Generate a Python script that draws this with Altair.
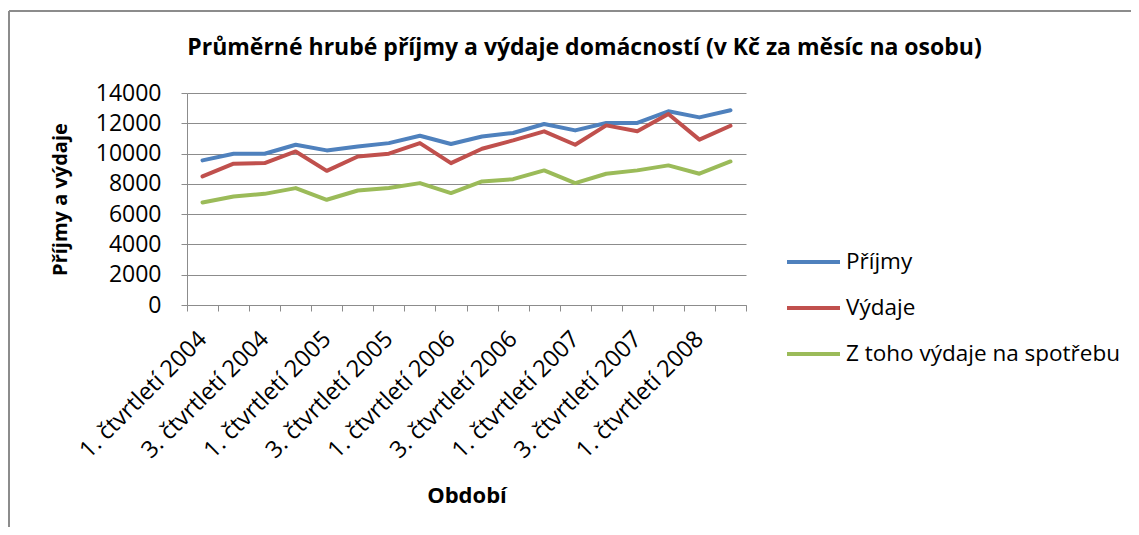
import altair as alt
import pandas as pd

quarters = [
    "1. čtvrtletí 2004", "2. čtvrtletí 2004", "3. čtvrtletí 2004", "4. čtvrtletí 2004",
    "1. čtvrtletí 2005", "2. čtvrtletí 2005", "3. čtvrtletí 2005", "4. čtvrtletí 2005",
    "1. čtvrtletí 2006", "2. čtvrtletí 2006", "3. čtvrtletí 2006", "4. čtvrtletí 2006",
    "1. čtvrtletí 2007", "2. čtvrtletí 2007", "3. čtvrtletí 2007", "4. čtvrtletí 2007",
    "1. čtvrtletí 2008", "2. čtvrtletí 2008",
]
prijmy = [9550, 9990, 9990, 10580, 10210, 10470, 10690, 11180, 10630,
          11130, 11360, 11950, 11530, 12020, 12020, 12790, 12390, 12860]
vydaje = [8490, 9330, 9370, 10140, 8860, 9810, 9990, 10690, 9370,
          10320, 10870, 11470, 10580, 11860, 11470, 12610, 10920, 11840]
spotreba = [6770, 7170, 7340, 7720, 6950, 7560, 7720, 8050, 7390,
            8160, 8310, 8890, 8050, 8670, 8890, 9220, 8670, 9480]
series_names = ["Příjmy", "Výdaje", "Z toho výdaje na spotřebu"]
series_colors = ["#4F81BD", "#C0504D", "#9BBB59"]
y_ticks = [0, 2000, 4000, 6000, 8000, 10000, 12000, 14000]

rows = []
for name, vals in zip(series_names, [prijmy, vydaje, spotreba]):
    for q, v in zip(quarters, vals):
        rows.append({"Období": q, "Hodnota": v, "Řada": name})
df = pd.DataFrame(rows)

FONT = "Open Sans"
GRAY = "#8c8c8c"

lines = alt.Chart(df).mark_line(strokeWidth=4, strokeCap="round", strokeJoin="round").encode(
    x=alt.X("Období:N", sort=quarters,
            scale=alt.Scale(type="band", paddingInner=0, paddingOuter=0),
            axis=alt.Axis(title="Období", labelAngle=-45, labelAlign="right", labelBaseline="middle",
                          labelExpr="(substring(datum.value,0,1)=='1' || substring(datum.value,0,1)=='3') ? datum.label : ''",
                          labelOverlap=False, labelFontSize=23.5, labelFont=FONT, labelColor="#000",
                          labelPadding=24, labelLimit=400, tickBand="extent", tickSize=6, tickColor=GRAY,
                          domainColor=GRAY, domainWidth=1, grid=False,
                          titleFont=FONT, titleFontSize=22, titleFontWeight="bold", titleColor="#000",
                          titlePadding=23)),
    y=alt.Y("Hodnota:Q", scale=alt.Scale(domain=[0, 14000], nice=False),
            axis=alt.Axis(title="Příjmy a výdaje", values=y_ticks, format="d",
                          labelFontSize=23, labelFont=FONT, labelColor="#000", labelPadding=20,
                          tickSize=6, tickColor=GRAY, domainColor=GRAY,
                          grid=True, gridColor=GRAY, gridWidth=1,
                          titleFont=FONT, titleFontSize=20, titleFontWeight="bold", titleColor="#000",
                          titlePadding=25)),
    color=alt.Color("Řada:N", sort=series_names,
                    scale=alt.Scale(domain=series_names, range=series_colors),
                    legend=alt.Legend(title=None, orient="none", legendX=598, legendY=158,
                                      symbolType="stroke", symbolStrokeWidth=4, symbolSize=2809,
                                      clipHeight=22, rowPadding=23, labelOffset=4, labelLimit=400,
                                      labelFont=FONT, labelFontSize=22.5, labelColor="#000")),
)

border_top = alt.Chart(df).mark_rule(color=GRAY, strokeWidth=2).encode(
    x=alt.value(-178), x2=alt.value(960), y=alt.value(-82))
border_left = alt.Chart(df).mark_rule(color=GRAY, strokeWidth=2).encode(
    x=alt.value(-178), y=alt.value(-82), y2=alt.value(440))

chart = alt.layer(lines, border_top, border_left).properties(
    width=559, height=212,
    title=alt.TitleParams("Průměrné hrubé příjmy a výdaje domácností (v Kč za měsíc na osobu)",
                          font=FONT, fontSize=23, fontWeight="bold", color="#000",
                          anchor="middle", frame="group", dx=118, dy=80, offset=30),
    autosize=alt.AutoSizeParams(type="none"),
    padding={"left": 179, "top": 85, "right": 385, "bottom": 222},
).configure_view(stroke=None)

chart.save("out.html", embed_options={"renderer": "svg", "actions": False})
